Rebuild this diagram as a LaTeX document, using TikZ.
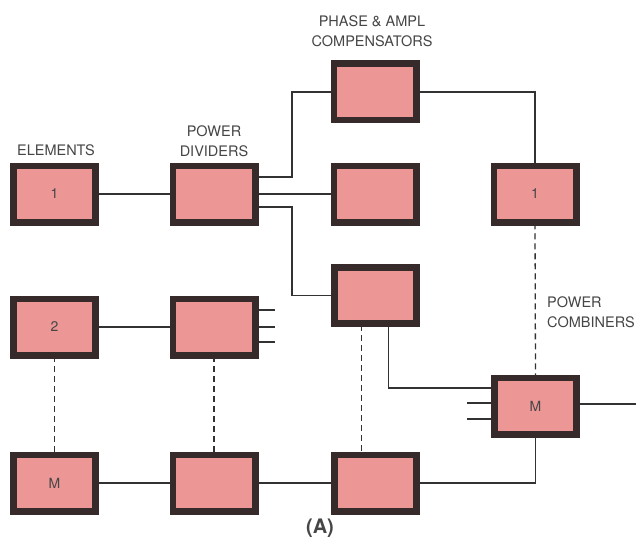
\documentclass[tikz,border=0pt]{standalone}
\usepackage{fontspec}
\setmainfont{TeX Gyre Heros}
\definecolor{boxfill}{RGB}{236,150,150}
\definecolor{boxline}{RGB}{55,42,42}
\definecolor{wire}{RGB}{50,50,50}
\definecolor{ink}{RGB}{70,70,70}
\begin{document}
\begin{tikzpicture}[x=1pt,y=-1pt,
  blk/.style={draw=boxline,fill=boxfill,line width=4.5pt,minimum width=80pt,minimum height=54pt,inner sep=0pt,font=\fontsize{14}{16}\selectfont,text=ink},
  wireline/.style={draw=wire,line width=1.6pt},
  dashwire/.style={draw=wire,line width=1.3pt,dash pattern=on 6pt off 4pt},
  lbl/.style={font=\fontsize{14.5}{20}\selectfont,text=ink,inner sep=0pt,align=center}]
\useasboundingbox (0,0) rectangle (636,540);
\fill[white] (0,0) rectangle (636,540);
% boxes
\node[blk] (e1) at (54.5,194) {1};
\node[blk] (pd1) at (214,194) {};
\node[blk] (pa1) at (375,92) {};
\node[blk] (pa2) at (375,194) {};
\node[blk] (pa3) at (375.5,295.5) {};
\node[blk] (pc1) at (535,194) {1};
\node[blk] (pcm) at (535.5,406) {M};
\node[blk] (paM) at (375.5,483) {};
\node[blk] (e2) at (54.5,327) {2};
\node[blk] (pd2) at (214,327) {};
\node[blk] (eM) at (54.5,483) {M};
\node[blk] (pdM) at (214,483) {};
\coordinate (out) at (636,404);
% labels
\node[lbl] (lel) at (56,150) {ELEMENTS};
\node[lbl] (lpd) at (214,141) {POWER\\DIVIDERS};
\node[lbl] (lpa) at (372,31) {PHASE \& AMPL\\COMPENSATORS};
\node[lbl,anchor=west,align=left] (lpc) at (547,312) {POWER\\COMBINERS};
\node[font=\fontsize{20}{24}\selectfont\bfseries,text=ink,inner sep=0pt] (la) at (320,528) {(A)};
% connectors
\draw[wireline] (e1.east) -- (pd1.west);
\draw[wireline] ([yshift=17pt]pd1.east) -- ++(36,0) |- (pa1.west);
\draw[wireline] (pd1.east) -- (pa2.west);
\draw[wireline] ([yshift=-13pt]pd1.east) -- ++(36,0) |- (pa3.west);
\draw[wireline] (pa1.east) -| (pc1.north);
\draw[dashwire] (pc1.south) -- (pcm.north);
\draw[wireline] ([xshift=13pt]pa3.south) |- ([yshift=18pt]pcm.west);
\draw[wireline] ([yshift=3pt]pcm.west) -- ++(-26,0);
\draw[wireline] ([yshift=-13pt]pcm.west) -- ++(-26,0);
\draw[wireline] ([yshift=2pt]pcm.east) -- (out);
\draw[wireline] (pcm.south) |- (paM.east);
\draw[dashwire] ([xshift=-14pt]pa3.south) -- ([xshift=-14pt]paM.north);
\draw[wireline] (e2.east) -- (pd2.west);
\draw[wireline] ([yshift=17pt]pd2.east) -- ++(19,0);
\draw[wireline] (pd2.east) -- ++(19,0);
\draw[wireline] ([yshift=-15pt]pd2.east) -- ++(19,0);
\draw[dashwire] (e2.south) -- (eM.north);
\draw[dashwire] (pd2.south) -- (pdM.north);
\draw[wireline] (eM.east) -- (pdM.west);
\draw[wireline] (pdM.east) -- (paM.west);
% redraw box borders on top
\foreach \n in {e1,pd1,pa1,pa2,pa3,pc1,pcm,paM,e2,pd2,eM,pdM}{
  \draw[boxline,line width=4.5pt] (\n.north west) rectangle (\n.south east);}
\end{tikzpicture}
\end{document}
